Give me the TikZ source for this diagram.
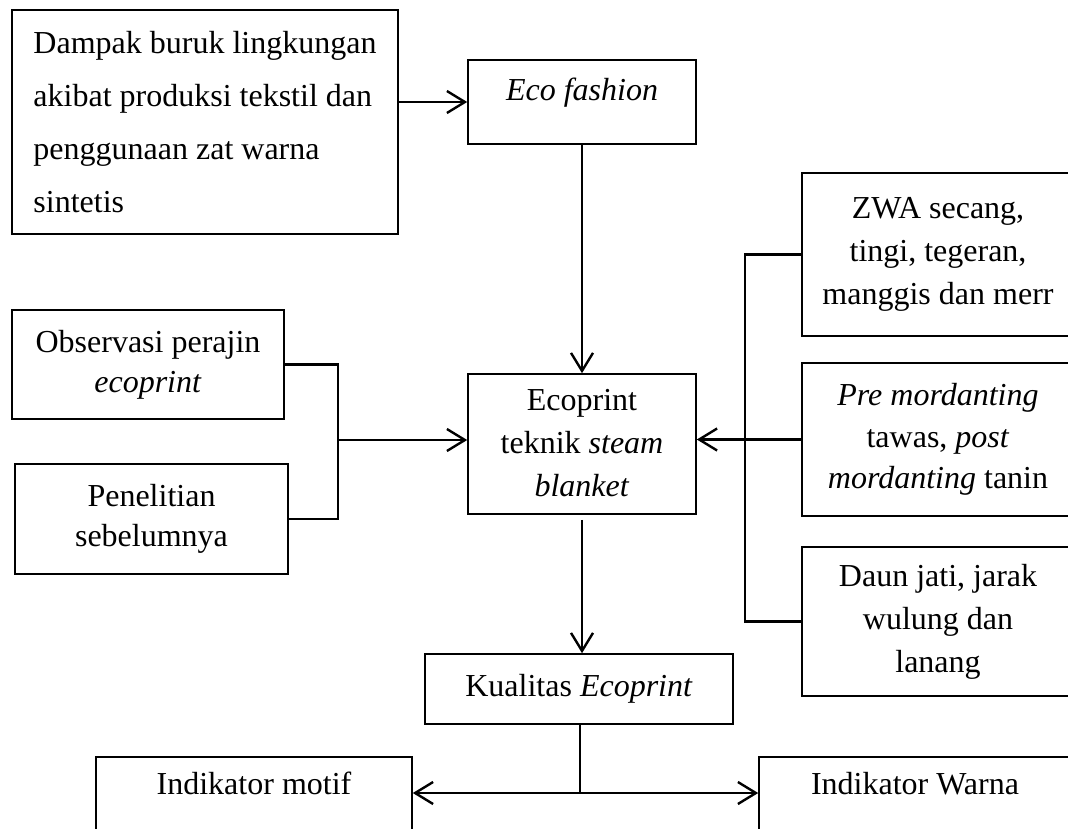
\documentclass[tikz,border=0pt]{standalone}
\usepackage{fontspec}
\setmainfont{Liberation Serif}
\usetikzlibrary{arrows.meta}
\begin{document}
\begin{tikzpicture}[
    x=0.5pt, y=-0.5pt,
    kotak/.style={rectangle, draw, line width=0.8pt, align=center, inner sep=0pt,
        font=\fontsize{16}{21.5}\selectfont},
    panah/.style={-{Straight Barb[length=9pt,width=11pt]}, line width=1.2pt},
    garis/.style={line width=1.2pt}
]
\useasboundingbox (0,0) rectangle (1068,828);

\node[kotak, minimum width=193pt, minimum height=112pt, align=left,
    font=\fontsize{16}{26.5}\selectfont] (dampak) at (205,122)
    {Dampak buruk lingkungan\\akibat produksi tekstil dan\\penggunaan zat warna\\sintetis};
\node[kotak, minimum width=114pt, minimum height=42pt, text height=11pt, text depth=12pt] (eco) at (582,102) {\textit{Eco fashion}};
\node[kotak, minimum width=114pt, minimum height=70pt, text depth=1pt] (ecoprint) at (582,444) {Ecoprint\\teknik \textit{steam}\\\textit{blanket}};
\node[kotak, minimum width=136pt, minimum height=54.5pt, font=\fontsize{16}{20}\selectfont] (observasi) at (148,364.5) {Observasi perajin\\\textit{ecoprint}};
\node[kotak, minimum width=136.5pt, minimum height=55pt, font=\fontsize{16}{20}\selectfont] (penelitian) at (151.5,519) {Penelitian\\sebelumnya};
\node[kotak, minimum width=136pt, minimum height=81.5pt] (zwa) at (938,254.5) {ZWA secang,\\tingi, tegeran,\\manggis dan merr};
\node[kotak, minimum width=136pt, minimum height=76.5pt, font=\fontsize{16}{20.75}\selectfont] (mordan) at (938,439.5) {\textit{Pre mordanting}\\tawas, \textit{post}\\\textit{mordanting} tanin};
\node[kotak, minimum width=136pt, minimum height=74.5pt] (daun) at (938,621.5) {Daun jati, jarak\\wulung dan\\lanang};
\node[kotak, minimum width=154pt, minimum height=35pt] (kualitas) at (579,689) {Kualitas \textit{Ecoprint}};
\node[kotak, minimum width=158pt, minimum height=46.5pt, text height=11pt, text depth=20pt] (motif) at (254,803.5) {Indikator motif};
\node[kotak, minimum width=156pt, minimum height=46.5pt, text height=11pt, text depth=20pt] (warna) at (915,803.5) {Indikator Warna};

% titik cabang
\coordinate (kiri) at (338,440);
\coordinate (kanan) at (745,443);
\coordinate (cabang) at (580,793);

\draw[panah] (dampak.east |- eco.west) -- (eco.west);
\draw[panah] (eco.south) -- (ecoprint.north);
\draw[garis] (observasi.east) -| (kiri) |- (penelitian.east);
\draw[panah] (kiri) -- (kiri -| ecoprint.west);
\draw[garis] (zwa.west) -| (kanan) |- (daun.west);
\draw[panah] (mordan.west) -- (mordan.west -| ecoprint.east);
\draw[panah, shorten <=2.5pt] (ecoprint.south) -- (ecoprint.south |- kualitas.north);
\draw[garis] (cabang |- kualitas.south) -- (cabang);
\draw[panah] (cabang) -- (cabang -| motif.east);
\draw[panah] (cabang) -- (cabang -| warna.west);
\end{tikzpicture}
\end{document}
